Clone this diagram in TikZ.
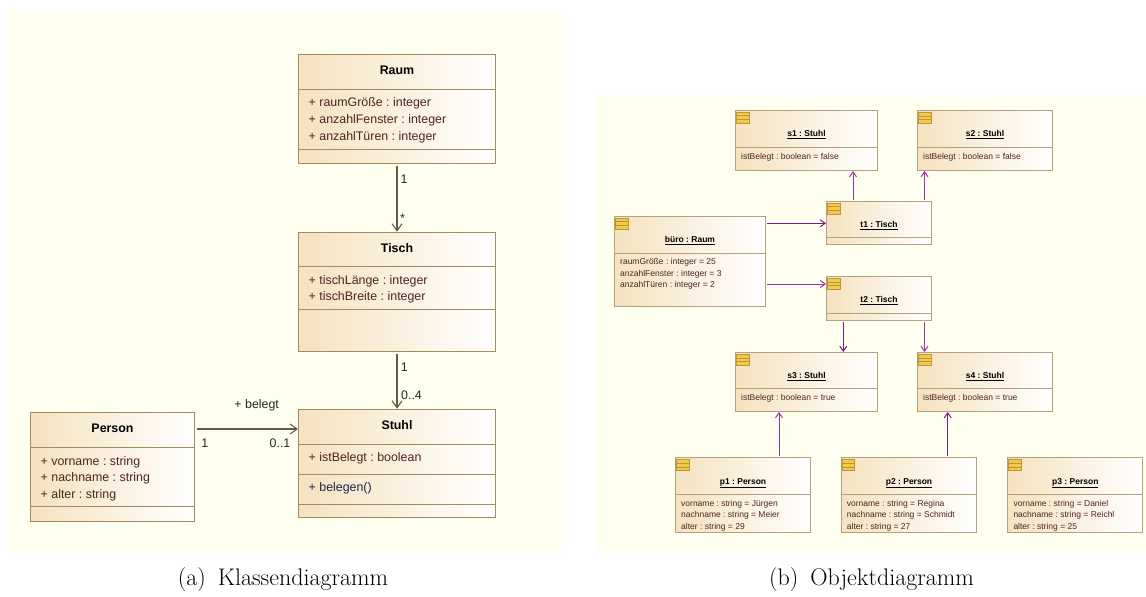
\documentclass[tikz,border=0pt]{standalone}
\usepackage{fontspec}
\usepackage{tikz}
\usetikzlibrary{calc, arrows.meta, positioning}
\usepackage{xcolor}
\newfontfamily\umlfont{Liberation Sans}
\frenchspacing

\definecolor{panel}{HTML}{FFFFF0}
\definecolor{boxtan}{HTML}{F5E2BF}
\definecolor{boxline}{HTML}{A38B60}
\definecolor{objline}{HTML}{B3A280}
\definecolor{assoc}{HTML}{645A46}
\definecolor{linkdark}{HTML}{7E1A7E}
\definecolor{link}{HTML}{A532A5}
\definecolor{attrtext}{HTML}{4E2323}
\definecolor{optext}{HTML}{23234E}
\definecolor{iconfill}{HTML}{F2C94C}
\definecolor{iconline}{HTML}{BE9633}

\tikzset{
    kbox/.style={draw=boxline, line width=1pt, left color=boxtan, right color=white,
        anchor=north west, inner sep=0pt},
    obox/.style={draw=objline, line width=1pt, left color=boxtan, right color=white,
        anchor=north west, inner sep=0pt},
    icon/.style={draw=iconline, fill=iconfill, line width=0.6pt, minimum width=12.5pt,
        minimum height=11pt, inner sep=0pt, anchor=north west,
        path picture={\draw[iconline, line width=0.5pt]
            ([yshift=-3.7pt]path picture bounding box.north west) -- ([yshift=-3.7pt]path picture bounding box.north east)
            ([yshift=3.7pt]path picture bounding box.south west) -- ([yshift=3.7pt]path picture bounding box.south east);}},
    ktitle/.style={font=\umlfont\bfseries\fontsize{12.4}{14}\selectfont, anchor=base, inner sep=0pt},
    ktext/.style={font=\umlfont\fontsize{12.4}{14}\selectfont, text=attrtext, anchor=base west, inner sep=0pt},
    otitle/.style={font=\umlfont\bfseries\fontsize{8.5}{10}\selectfont, anchor=base, inner sep=0pt},
    otext/.style={font=\umlfont\fontsize{8.5}{10}\selectfont, text=attrtext, anchor=base west, inner sep=0pt},
    mult/.style={font=\umlfont\fontsize{12.4}{14}\selectfont, text=black!85, anchor=base, inner sep=0pt},
    assocline/.style={draw=assoc, line width=1.1pt, shorten <=2.3pt, -{Straight Barb[length=7pt,width=10pt]}},
    linkline/.style={draw=link, line width=1pt, shorten <=1.2pt, -{Straight Barb[length=5pt,width=7pt]}},
    subcap/.style={font=\fontsize{24}{28}\selectfont, anchor=base, inner sep=0pt},
}

\newcommand{\drawK}[6]{
    \node[kbox, minimum width=#4, minimum height=#5] (#1) at (#2,#3) {};
    \node[ktitle] (#1-title) at ([yshift=-20.5pt]#1.north) {#6};
}
\newcommand{\drawO}[6]{
    \node[obox, minimum width=#4, minimum height=#5] (#1) at (#2,#3) {};
    \node[icon] (#1-icon) at ([xshift=1pt, yshift=-2pt]#1.north west) {};
    \node[otitle] (#1-title) at ([yshift=-26.8pt]#1.north) {\underline{#6}};
}
\newcommand{\drawS}[3][boxline]{
    \draw[#1, line width=1pt] ([yshift=-#3pt]#2.north west) -- ([yshift=-#3pt]#2.north east);
}
\newcommand{\drawA}[4]{
    \node[ktext] (#1) at ([xshift=10.5pt, yshift=-#3pt]#2.north west) {#4};
}
\newcommand{\drawP}[4]{
    \node[otext] (#1) at ([xshift=6pt, yshift=-#3pt]#2.north west) {#4};
}

\begin{document}
\begin{tikzpicture}[x=1pt, y=-1pt]
    \useasboundingbox (0,0) rectangle (1146,597);

    % Panels
        \fill[panel] (8,10) rectangle (562,553.3);
        \fill[panel] (597,95) rectangle (1146,553.3);

    % Classes
        \drawK{raum}{298}{54}{197}{108.7}{Raum}
        \drawS{raum}{35.5}
        \drawS{raum}{95.3}
        \drawA{raum-a1}{raum}{52}{+ raumGröße : integer}
        \drawA{raum-a2}{raum}{69}{+ anzahlFenster : integer}
        \drawA{raum-a3}{raum}{86}{+ anzahlTüren : integer}

        \drawK{tisch}{298}{231.7}{197}{119.3}{Tisch}
        \drawS{tisch}{35}
        \drawS{tisch}{77.3}
        \drawA{tisch-a1}{tisch}{52.7}{+ tischLänge : integer}
        \drawA{tisch-a2}{tisch}{68.7}{+ tischBreite : integer}

        \drawK{stuhl}{298}{408.7}{197}{108.6}{Stuhl}
        \drawS{stuhl}{36}
        \drawS{stuhl}{65.3}
        \drawS{stuhl}{95.3}
        \drawA{stuhl-a1}{stuhl}{52.3}{+ istBelegt : boolean}
        \drawA{stuhl-o1}{stuhl}{83}{\textcolor{optext}{+ belegen()}}

        \drawK{person}{30}{412.3}{164}{108.4}{Person}
        \drawS{person}{35}
        \drawS{person}{94.4}
        \drawA{person-a1}{person}{53}{+ vorname : string}
        \drawA{person-a2}{person}{69}{+ nachname : string}
        \drawA{person-a3}{person}{86}{+ alter : string}

    % Associations
        \draw[assocline] (raum) -- (tisch);
        \draw[assocline] (tisch) -- (stuhl);
        \draw[assocline] ([yshift=-16.7pt]person.north east) -- ([yshift=-20.3pt]stuhl.north west);
        \node[mult] (m-raum) at (404,183.4) {1};
        \node[mult] (m-tisch) at (402.6,222) {*};
        \node[mult] (m-tisch2) at (404.4,371) {1};
        \node[mult] (m-stuhl) at (411.5,399.4) {0..4};
        \node[mult] (r-belegt) at (256.7,408.4) {+ belegt};
        \node[mult] (m-person) at (204.7,447) {1};
        \node[mult] (m-stuhl2) at (280,447) {0..1};

    % Objects
        \drawO{s1}{735}{109.5}{142}{60.5}{s1 : Stuhl}
        \drawS[objline]{s1}{37.8}
        \drawP{s1-a1}{s1}{49.5}{istBelegt : boolean = false}

        \drawO{s2}{917}{110}{135}{60}{s2 : Stuhl}
        \drawS[objline]{s2}{37.3}
        \drawP{s2-a1}{s2}{49}{istBelegt : boolean = false}

        \drawO{t1}{826}{200.7}{105}{43.3}{t1 : Tisch}
        \drawS[objline]{t1}{37}

        \drawO{t2}{826}{276}{105}{44}{t2 : Tisch}
        \drawS[objline]{t2}{37}

        \drawO{buero}{614}{215.7}{151}{90}{büro : Raum}
        \drawS[objline]{buero}{37.6}
        \drawP{buero-a1}{buero}{49}{raumGröße : integer = 25}
        \drawP{buero-a2}{buero}{60.3}{anzahlFenster : integer = 3}
        \drawP{buero-a3}{buero}{71.6}{anzahlTüren : integer = 2}

        \drawO{s3}{735}{352}{142}{59}{s3 : Stuhl}
        \drawS[objline]{s3}{36.7}
        \drawP{s3-a1}{s3}{48.3}{istBelegt : boolean = true}

        \drawO{s4}{917}{352}{135}{59}{s4 : Stuhl}
        \drawS[objline]{s4}{36.7}
        \drawP{s4-a1}{s4}{48.3}{istBelegt : boolean = true}

        \drawO{p1}{675}{457.3}{135}{74.7}{p1 : Person}
        \drawS[objline]{p1}{37}
        \drawP{p1-a1}{p1}{49}{vorname : string = Jürgen}
        \drawP{p1-a2}{p1}{60}{nachname : string = Meier}
        \drawP{p1-a3}{p1}{71.7}{alter : string = 29}

        \drawO{p2}{840.7}{457.3}{135.6}{74.7}{p2 : Person}
        \drawS[objline]{p2}{37}
        \drawP{p2-a1}{p2}{49}{vorname : string = Regina}
        \drawP{p2-a2}{p2}{60}{nachname : string = Schmidt}
        \drawP{p2-a3}{p2}{71.7}{alter : string = 27}

        \drawO{p3}{1007.3}{457.3}{135}{74.7}{p3 : Person}
        \drawS[objline]{p3}{37}
        \drawP{p3-a1}{p3}{49}{vorname : string = Daniel}
        \drawP{p3-a2}{p3}{60}{nachname : string = Reichl}
        \drawP{p3-a3}{p3}{71.7}{alter : string = 25}

    % Links
        \draw[linkline, draw=linkdark] ([yshift=-7.6pt]buero.north east) -- ([yshift=-22.6pt]t1.north west);
        \draw[linkline] ([yshift=-68.3pt]buero.north east) -- ([yshift=-8pt]t2.north west);
        \draw[linkline] ([xshift=27pt]t1.north west) -- ([xshift=118pt]s1.south west);
        \draw[linkline] ([xshift=98.5pt]t1.north west) -- ([xshift=7.5pt]s2.south west);
        \draw[linkline, draw=linkdark] ([xshift=17.3pt]t2.south west) -- ([xshift=108.3pt]s3.north west);
        \draw[linkline] ([xshift=98.5pt]t2.south west) -- ([xshift=7.5pt]s4.north west);
        \draw[linkline] ([xshift=104pt]p1.north west) -- ([xshift=44pt]s3.south west);
        \draw[linkline, draw=linkdark] ([xshift=107pt]p2.north west) -- ([xshift=30.7pt]s4.south west);

    % Captions
        \node[subcap] (cap-a) at (283,585) {(a)\enspace Klassendiagramm};
        \node[subcap] (cap-b) at (871.5,585) {(b)\enspace Objektdiagramm};
\end{tikzpicture}
\end{document}
